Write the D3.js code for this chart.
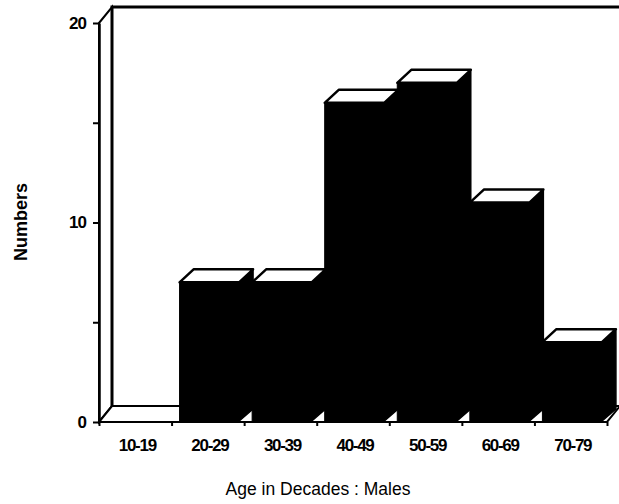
<!DOCTYPE html>
<html>
<head>
<meta charset="utf-8">
<script src="https://cdn.jsdelivr.net/npm/d3@7"></script>
<style>
  body { margin: 0; background: #fff; }
  svg { display: block; }
  .lab { font-family: "Liberation Sans", Arial, sans-serif; font-weight: bold; }
</style>
</head>
<body>
<svg id="chart"></svg>
<script>
"use strict";

var width = 619,
    height = 504;

// data
var categories = ["10-19", "20-29", "30-39", "40-49", "50-59", "60-69", "70-79"];
var counts = [0, 7, 7, 16, 17, 11, 4];
var yTicks = [0, 5, 10, 15, 20];
var yTickLabels = [0, 10, 20];

// depth of the box and of the bars
var wallDx = 13, wallDy = 16,
    barDx = 14, barDy = 13;

var x = d3.scaleBand().domain(categories).range([99, 607]).padding(0);
var xEdge = d3.scaleLinear().domain([0, categories.length]).range([99, 607]);
var y = d3.scaleLinear().domain([0, 20]).range([422, 23]);

var svg = d3.select("#chart")
    .attr("width", width)
    .attr("height", height);

var line = d3.line();

// left side wall
svg.append("path")
    .attr("d", line([[99, y(20)], [99 + wallDx, y(20) - wallDy], [99 + wallDx, y(0) - wallDy], [99, y(0)]]) + "Z")
    .attr("fill", "#fff")
    .attr("stroke", "#000")
    .attr("stroke-width", 2);

// back wall edges
svg.append("path")
    .attr("d", line([[99 + wallDx, y(0) - wallDy], [99 + wallDx, y(20) - wallDy], [width, y(20) - wallDy]]))
    .attr("fill", "none")
    .attr("stroke", "#000")
    .attr("stroke-width", 3);

// floor
svg.append("path")
    .attr("d", line([[99, y(0)], [99 + wallDx, y(0) - wallDy], [607 + wallDx, y(0) - wallDy], [607, y(0)]]) + "Z")
    .attr("fill", "#fff")
    .attr("stroke", "#000")
    .attr("stroke-width", 2);

// bars
var bars = svg.append("g")
    .selectAll("g")
    .data(categories.map(function (c, i) { return { cat: c, v: counts[i] }; }).filter(function (d) { return d.v > 0; }))
    .enter().append("g");

function x0(d) { return x(d.cat) + x.step() * 0.11; }
function x1(d) { return x(d.cat) + x.step() * 0.93; }

bars.append("path")
    .attr("d", function (d) {
        return line([[x1(d) - 1, y(d.v)], [x1(d) + barDx, y(d.v) - barDy], [x1(d) + barDx, y(0) - barDy], [x1(d) - 1, y(0)]]) + "Z";
    })
    .attr("fill", "#000")
    .attr("stroke", "#000")
    .attr("stroke-width", 1.5)
    .attr("stroke-linejoin", "round");

bars.append("rect")
    .attr("x", x0)
    .attr("y", function (d) { return y(d.v); })
    .attr("width", function (d) { return x1(d) - x0(d); })
    .attr("height", function (d) { return y(0) - y(d.v); })
    .attr("fill", "#000")
    .attr("stroke", "#000")
    .attr("stroke-width", 1);

bars.append("path")
    .attr("d", function (d) {
        var t = y(d.v);
        return line([[x0(d), t], [x0(d) + barDx, t - barDy], [x1(d) + barDx, t - barDy], [x1(d), t]]) + "Z";
    })
    .attr("fill", "#fff")
    .attr("stroke", "#000")
    .attr("stroke-width", 2.5)
    .attr("stroke-linejoin", "round");

// y axis
var yAxis = svg.append("g")
    .attr("transform", "translate(99,0)")
    .call(d3.axisLeft(y)
        .tickValues(yTicks)
        .tickSize(6)
        .tickSizeOuter(0)
        .tickPadding(7)
        .tickFormat(function (d) { return yTickLabels.indexOf(d) >= 0 ? d : ""; }));
yAxis.select(".domain").attr("stroke-width", 2.5);
yAxis.selectAll(".tick line").attr("stroke-width", 2);
yAxis.selectAll("text")
    .attr("class", "lab")
    .attr("font-size", 17)
    .attr("letter-spacing", "-1px")
    .attr("fill", "#000");

// x axis: ticks at the class edges, labels at the centres
var xTicks = svg.append("g")
    .attr("transform", "translate(0," + y(0) + ")")
    .call(d3.axisBottom(xEdge)
        .tickValues(d3.range(categories.length + 1))
        .tickSize(4)
        .tickFormat(""));
xTicks.select(".domain").remove();
xTicks.selectAll(".tick line").attr("stroke-width", 2);

var xLabels = svg.append("g")
    .attr("transform", "translate(2," + y(0) + ")")
    .call(d3.axisBottom(x).tickSize(0).tickPadding(17));
xLabels.select(".domain").remove();
xLabels.selectAll("text")
    .attr("class", "lab")
    .attr("font-size", 17)
    .attr("letter-spacing", "-1.3px")
    .attr("fill", "#000");

// axis titles
svg.append("text")
    .attr("x", 318)
    .attr("y", 495)
    .attr("text-anchor", "middle")
    .attr("font-family", "'Liberation Sans', Arial, sans-serif")
    .attr("font-size", 17.5)
    .text("Age in Decades : Males");

svg.append("text")
    .attr("class", "lab")
    .attr("transform", "translate(27,222) rotate(-90)")
    .attr("text-anchor", "middle")
    .attr("font-size", 18)
    .text("Numbers");
</script>
</body>
</html>
